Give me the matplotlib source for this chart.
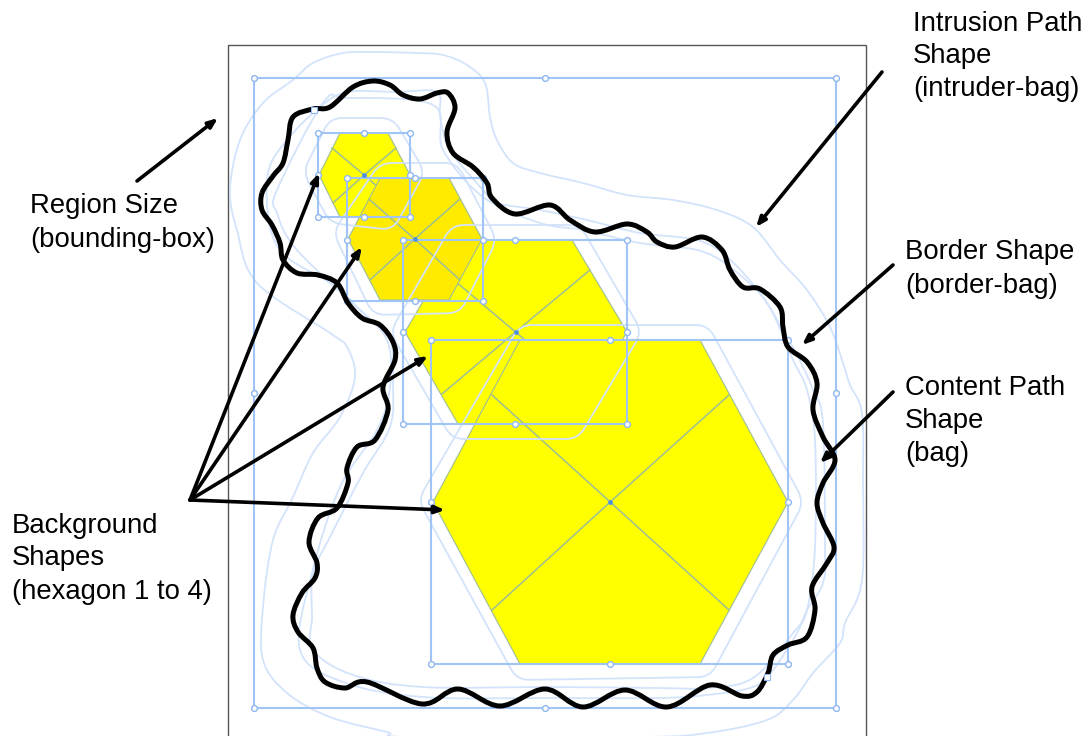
import matplotlib
matplotlib.use("Agg")
import matplotlib.pyplot as plt
import numpy as np
from matplotlib.path import Path
from matplotlib.patches import PathPatch, Polygon, Rectangle

plt.rcParams['font.family'] = ['Liberation Sans', 'DejaVu Sans']

bag_path = [(262,193),(273,176),(283,163),(288,140),(293,117),(313,109),(330,107),(353,87),(373,81),(390,85),
            (403,95),(420,99),(437,93),(448,93),(455,108),(447,132),(453,153),(473,167),(487,183),(492,198),
            (515,214),(550,205),(570,220),(595,232),(627,224),(647,232),(657,242),(675,247),(702,237),
            (722,250),(730,270),(743,287),(760,289),(780,307),(783,327),(788,347),(807,362),(817,383),(813,410),
            (823,437),(835,460),(823,483),(817,503),(823,523),(834,547),(827,563),(812,587),(815,610),(807,637),
            (788,645),(773,655),(768,673),(757,692),(742,696),(710,685),(667,707),(625,690),(583,707),
            (545,689),(500,706),(458,689),(422,704),(367,682),(345,688),(325,682),(317,668),(313,648),(298,632),(293,615),
            (302,593),(315,578),(317,563),(309,542),(318,518),(337,508),(348,483),(347,468),(357,447),(375,440),
            (388,410),(383,387),(395,360),(393,342),(380,325),(362,318),(348,303),(337,283),(318,275),(297,273),
            (283,260),(280,243),(272,225),(262,210)]

intruder_path = [(293,80),(313,63),(343,53),(373,52),(417,53),(443,55),(467,65),(485,83),(490,117),(497,140),
                 (513,163),(540,173),(583,183),(627,195),(673,200),(717,210),(753,227),(780,260),(807,290),
                 (830,327),(843,363),(850,385),(862,413),(863,480),(862,580),(845,623),(840,643),(813,673),
                 (793,700),(767,720),(707,733),(640,737),(410,737),(387,732),(330,717),(287,693),(263,660),
                 (263,607),(273,540),(293,497),(313,453),(340,417),(355,377),(347,347),(330,333),(257,283),
                 (237,230),(230,190),(240,140),(263,103)]

border_path = [(268,173),(287,140),(320,107),(347,92),(397,92),(437,92),(440,117),(450,150),(483,190),(497,203),
               (540,210),(587,220),(640,233),(697,240),(727,257),(760,293),(787,337),(803,367),(813,390),(823,423),
               (825,547),(823,583),(807,610),(797,633),(773,670),(753,687),(707,695),(657,698),(550,698),(423,697),
               (343,682),(300,650),(312,573),(340,487),(377,430),(390,387),(387,340),(357,307),(330,283),(287,257),
               (270,227)]

inner_path = [(277,190),(323,103),(347,98),(433,105),(443,150),(483,197),(540,223),(583,230),(640,243),(697,250),
              (730,267),(767,303),(793,360),(807,390),(815,440),(815,547),(807,610),(793,633),(753,678),(707,688),
              (657,688),(550,687),(423,687),(353,675),(313,650),(312,617),(313,573),(330,537),(363,473),(390,427),
              (393,383),(390,340),(363,313),(297,250),(277,213)]

# drawn in this order, hexagon 2 sits on top of 3 in the picture
hex1 = [(340,133),(388,133),(410,175),(388,217),(340,217),(319,175)]
hex3 = [(459,240),(572,240),(627,332),(572,424),(458,424),(405,332)]
hex4 = [(520,340),(700,340),(788,502),(700,664),(520,664),(433,502)]
hex2 = [(380,178),(449,178),(482,239),(449,300),(380,300),(348,239)]

hex1_spokes = [(332,148),(396,148),(333,203),(396,203)]
hex3_spokes = [(442,270),(590,270),(442,394),(590,394)]
hex4_spokes = [(492,395),(729,395),(492,610),(729,610)]
hex2_spokes = [(370,200),(460,199),(370,280),(460,280)]
centres = [(364,175),(516,332),(610,502),(415,239)]

hex1_halo = [(330,118),(393,118),(425,172),(393,230),(330,223),(303,172)]
hex2_halo = [(380,163),(457,163),(497,240),(460,313),(373,315),(333,232)]
hex3_halo = [(452,225),(580,225),(642,332),(578,439),(452,439),(390,332)]
hex4_halo = [(520,325),(708,325),(804,502),(710,677),(517,680),(418,500)]

boxes = [(254,78,836,708),(318,133,410,217),(347,178,483,301),(403,240,627,424),(431,340,788,664)]

arrows = [((137,181),(218,118)),((882,72),(756,227)),((893,265),(802,345)),((893,392),(820,463)),
          ((190,500),(319,173)),((190,500),(362,247)),((190,500),(428,356)),((190,500),(445,510))]

labels = [(913,24,"Intrusion Path"),(913,56,"Shape"),(913,89,"(intruder-bag)"),
          (905,252,"Border Shape"),(905,286,"(border-bag)"),
          (905,388,"Content Path"),(905,421,"Shape"),(905,454,"(bag)"),
          (30,206,"Region Size"),(30,240,"(bounding-box)"),
          (12,526,"Background"),(12,558,"Shapes"),(12,592,"(hexagon 1 to 4)")]

BLUE = '#a0c4f6'
LIGHT = '#d3e3fb'
SPOKE = '#9dbf95'


def smooth_closed(points):
    # catmull-rom through the traced points, as bezier segments
    p = np.array(points, dtype=float)
    n = len(p)
    verts = [p[0]]
    codes = [Path.MOVETO]
    for i in range(n):
        p0, p1, p2, p3 = p[i - 1], p[i], p[(i + 1) % n], p[(i + 2) % n]
        verts += [p1 + (p2 - p0) / 6, p2 - (p3 - p1) / 6, p2]
        codes += [Path.CURVE4] * 3
    return Path(verts, codes)


def rounded(points, r=12):
    # polygon with its corners cut by a quadratic curve
    p = np.array(points, dtype=float)
    n = len(p)
    verts, codes = [], []
    for i in range(n):
        a, b, c = p[i - 1], p[i], p[(i + 1) % n]
        start = b + (a - b) / np.linalg.norm(a - b) * r
        stop = b + (c - b) / np.linalg.norm(c - b) * r
        verts += [start, b, stop]
        codes += [Path.MOVETO if i == 0 else Path.LINETO, Path.CURVE3, Path.CURVE3]
    verts.append(verts[0])
    codes.append(Path.LINETO)
    return Path(verts, codes)


fig = plt.figure(figsize=(10.88, 7.36), dpi=100)
ax = fig.add_axes([0, 0, 1, 1])
ax.set_xlim(0, 1088)
ax.set_ylim(736, 0)
ax.axis("off")

# region frame
ax.add_patch(Rectangle((228, 45), 638, 700, fill=False, ec='#555555', lw=1, zorder=1))

# hexagons with their spokes
for pts, spokes, col, z in [(hex1, hex1_spokes, '#ffff00', 2), (hex3, hex3_spokes, '#ffff00', 3),
                            (hex4, hex4_spokes, '#ffff00', 4), (hex2, hex2_spokes, '#ffeb00', 5)]:
    ax.add_patch(Polygon(pts, closed=True, fc=col, ec=SPOKE, lw=0.8, zorder=z))
    c = np.mean(pts, axis=0)
    for s in spokes:
        ax.plot([c[0], s[0]], [c[1], s[1]], color=SPOKE, lw=1.1, zorder=z)

# pale offset outlines
for pts in [hex1_halo, hex2_halo, hex3_halo, hex4_halo]:
    ax.add_patch(PathPatch(rounded(pts), fill=False, ec=LIGHT, lw=1.3, zorder=6))
for pts in [intruder_path, border_path, inner_path]:
    ax.add_patch(PathPatch(smooth_closed(pts), fill=False, ec=LIGHT, lw=1.3, zorder=6))

# selection boxes and handles
for x0, y0, x1, y1 in boxes:
    ax.add_patch(Rectangle((x0, y0), x1 - x0, y1 - y0, fill=False, ec=BLUE, lw=1.5, zorder=7))
    mx, my = (x0 + x1) / 2, (y0 + y1) / 2
    hx = [x0, mx, x1, x1, x1, mx, x0, x0]
    hy = [y0, y0, y0, my, y1, y1, y1, my]
    ax.plot(hx, hy, ls='none', marker='o', ms=4.2, mfc='white', mec='#8fb8f2', mew=1, zorder=8)
ax.plot(*zip(*centres), ls='none', marker='o', ms=2.4, color='#4f8fe0', zorder=8)

# content path
ax.add_patch(PathPatch(smooth_closed(bag_path), fill=False, ec='black', lw=3.6, zorder=9))
ax.plot([314, 767], [110, 677], ls='none', marker='s', ms=4.5, mfc='white', mec='#8fb8f2', mew=0.8, zorder=10)

for start, end in arrows:
    ax.annotate("", xy=end, xytext=start, zorder=11,
                arrowprops=dict(arrowstyle='-|>,head_length=0.55,head_width=0.22', color='black', lw=2.6,
                                shrinkA=0, shrinkB=0))

for x, y, s in labels:
    ax.text(x, y, s, fontsize=19.8, color='black', ha='left', va='center', zorder=12)

fig.savefig("out.png", dpi=100)
